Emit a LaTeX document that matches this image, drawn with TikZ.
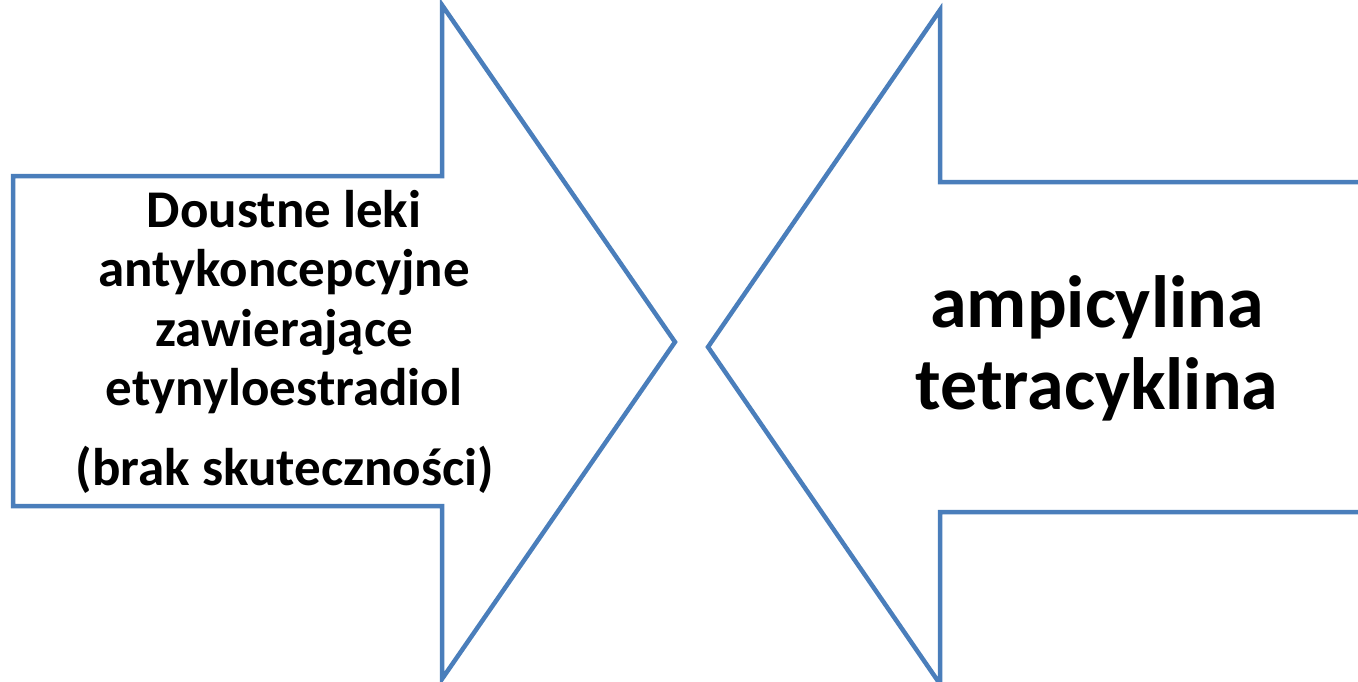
\documentclass[tikz,border=0pt]{standalone}
\usepackage{fontspec}
\setmainfont{Carlito}
\usepackage{xcolor}
\definecolor{arrowblue}{HTML}{4A7EBB}
\usetikzlibrary{positioning}

\begin{document}
\begin{tikzpicture}[line cap=butt,line join=miter,x=1pt,y=-1pt,
  outline/.style={draw=arrowblue,line width=4.5pt},
  lefttext/.style={font=\bfseries\fontsize{53}{59.5}\selectfont,align=center},
  righttext/.style={font=\bfseries\fontsize{74}{82}\selectfont,align=center}]
\useasboundingbox (0,0) rectangle (1358,681);
\clip (0,0) rectangle (1358,681);
% arrow pointing right
\draw [outline] (13,176) -- (442,176) -- (442,5) -- (675,342) -- (442,679) -- (442,506) -- (13,506) -- cycle;
% arrow pointing left, open on the right edge
\draw [outline] (1370,182) -- (940,182) -- (940,10) -- (708,347) -- (940,684) -- (940,512) -- (1370,512);
\node [lefttext] (drugs) at (284,302) {Doustne leki\\antykoncepcyjne\\zawierające\\etynyloestradiol};
\node [lefttext] (effect) at (285,470) {(brak skuteczności)};
\node [righttext] (antibiotics) at (1097,348) {ampicylina\\tetracyklina};
\end{tikzpicture}
\end{document}
